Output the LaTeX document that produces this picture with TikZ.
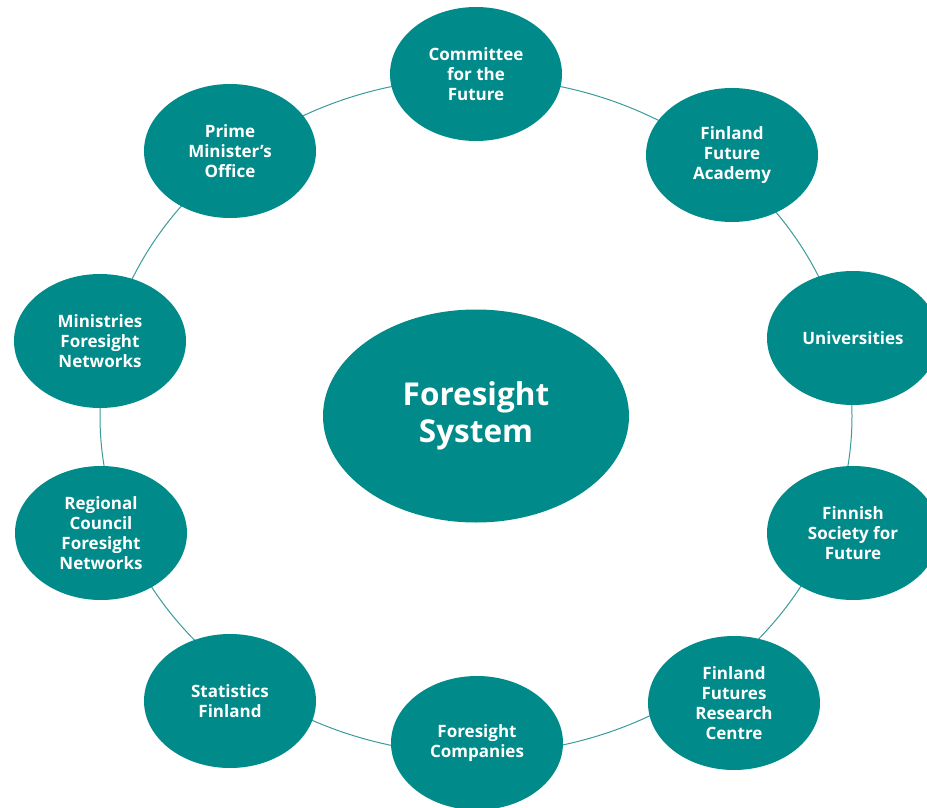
\documentclass[tikz,border=0pt]{standalone}
\usepackage{fontspec}
\setsansfont{Open Sans}
\usetikzlibrary{shapes.geometric}

\definecolor{fsteal}{RGB}{0,138,138}
\definecolor{fsring}{RGB}{60,155,155}

\tikzset{
    actor/.style={ellipse, fill=fsteal, text=white, inner sep=0pt,
        minimum width=172pt, minimum height=134pt, align=center,
        font=\sffamily\bfseries\fontsize{17}{20}\selectfont},
    hub/.style={actor, minimum width=306pt, minimum height=213pt,
        font=\sffamily\bfseries\fontsize{31.5}{37}\selectfont},
    ring/.style={draw=fsring, line width=1pt}
}

\begin{document}
\begin{tikzpicture}[x=1pt, y=-1pt]
            \useasboundingbox[fill=white] (0,0) rectangle (927,808);

            % centre and the ring through the actors
            \node[hub] (system) at (476,416) {Foresight\\System};
            \draw[ring] (system.center) ellipse [x radius=376pt, y radius=338pt];

            % actors, clockwise from the top
            \node[actor] (committee)  at (476,74)  {Committee\\for the\\Future};
            \node[actor] (academy)    at (732,155) {Finland\\Future\\Academy};
            \node[actor] (univ)       at (853,338) {Universities};
            \node[actor] (society)    at (853,533) {Finnish\\Society for\\Future};
            \node[actor] (research)   at (734,703) {Finland\\Futures\\Research\\Centre};
            \node[actor] (companies)  at (477,743) {Foresight\\Companies};
            \node[actor] (statistics) at (230,701) {Statistics\\Finland};
            \node[actor] (regional)   at (101,533) {Regional\\Council\\Foresight\\Networks};
            \node[actor] (ministries) at (100,341) {Ministries\\Foresight\\Networks};
            \node[actor] (pmo)        at (230,151) {Prime\\Minister’s\\Office};
        \end{tikzpicture}
\end{document}
